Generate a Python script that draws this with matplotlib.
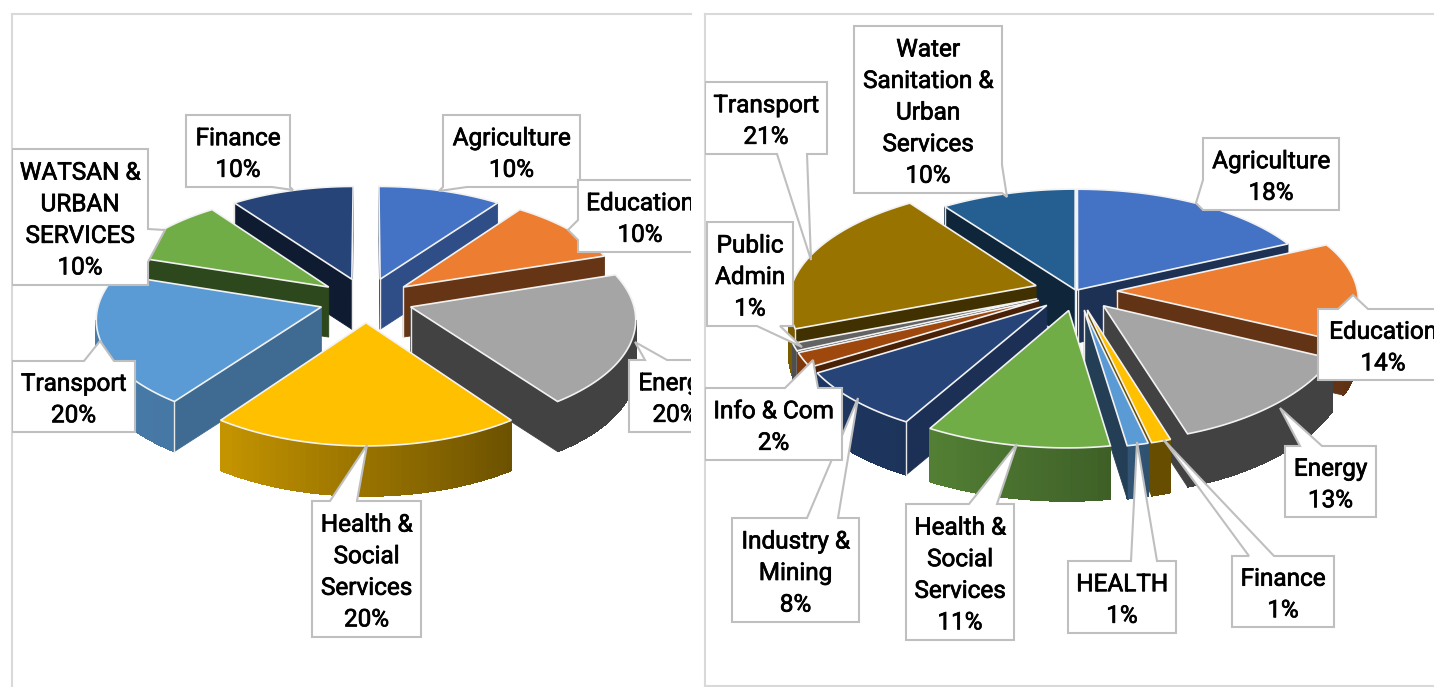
import numpy as np
from matplotlib import pyplot as plt
from matplotlib import patheffects
from matplotlib.patches import Polygon

plt.rcParams['font.family'] = ['Roboto', 'DejaVu Sans']

# chart data
left_names = ['Agriculture', 'Education', 'Energy', 'Health &\nSocial\nServices', 'Transport',
              'WATSAN &\nURBAN\nSERVICES', 'Finance']
left_values = [10, 10, 20, 20, 20, 10, 10]
left_colors = ['#4472C4', '#ED7D31', '#A5A5A5', '#FFC000', '#5B9BD5', '#70AD47', '#264478']

right_names = ['Agriculture', 'Education', 'Energy', 'Finance', 'HEALTH', 'Health &\nSocial\nServices',
               'Industry &\nMining', 'Info & Com', 'Public\nAdmin', 'Transport',
               'Water\nSanitation &\nUrban\nServices']
# the labels are rounded, the slice angles show a bit more for the small ones
right_values = [18, 14, 13, 1.2, 1.3, 10.6, 8, 2, 1, 21, 10]
right_colors = ['#4472C4', '#ED7D31', '#A5A5A5', '#FFC000', '#5B9BD5', '#70AD47', '#264478',
                '#9E480E', '#636363', '#997300', '#255E91']
right_explode = [0.012, 0.17, 0.17, 0.17, 0.17, 0.17, 0.17, 0.17, 0.17, 0.17, 0.012]

# callouts: box x0, y0, x1, y1, side the pointer leaves from, pointer base a, base b, tip x, tip y
left_boxes = [
    (443, 115, 580, 187, 'bottom', 467, 443, 439, 191),
    (578, 180, 702, 252, 'left', 240, 220, 568, 230),
    (629, 360, 721, 432, 'top', 645, 667, 635, 342),
    (312, 501, 421, 637, 'top', 330, 357, 367, 445),
    (12, 361, 135, 432, 'top', 84, 114, 100, 341),
    (12, 149, 148, 285, 'right', 229, 262, 165, 230),
    (186, 115, 290, 187, 'bottom', 290, 272, 293, 190),
]
right_boxes = [
    (1203, 138, 1339, 210, 'left', 210, 180, 1196, 203),
    (1318, 309, 1448, 380, 'top', 1338, 1368, 1353, 295),
    (1285, 446, 1376, 517, 'top', 1300, 1322, 1280, 408),
    (1232, 556, 1334, 627, 'top', 1249, 1274, 1163, 439),
    (1068, 561, 1176, 633, 'top', 1131, 1157, 1137, 442),
    (906, 504, 1014, 640, 'top', 969, 997, 1017, 444),
    (732, 518, 859, 622, 'top', 807, 838, 858, 398),
    (705, 388, 842, 460, 'top', 785, 818, 813, 360),
    (707, 222, 793, 326, 'bottom', 780, 757, 802, 347),
    (705, 82, 827, 154, 'bottom', 807, 777, 811, 260),
    (854, 26, 1002, 193, 'right', 165, 193, 1007, 197),
]


def shade(color, f):
    return tuple(c * f for c in plt.matplotlib.colors.to_rgb(color))


def draw_pie(ax, values, colors, explode, cx, cy, R, K, p, depth, squeeze=0.0):
    total = sum(values)
    edges = np.cumsum([0] + list(values)) / total * 360.0

    def project(theta, r, mid, e):
        t, m = np.radians(theta), np.radians(mid)
        X = r * np.sin(t) + e * np.sin(m)
        Y = -(r * np.cos(t) + e * np.cos(m))
        s = 1 / (1 - p * Y)
        if X > 0:
            # the front right of the reference pie is a little narrower
            X = X * (1 - squeeze * max(0, Y + 0.4))
        return cx + R * X * s, cy + K * Y * s

    order = sorted(range(len(values)), key=lambda i: -np.cos(np.radians((edges[i] + edges[i + 1]) / 2)))
    for i in order:
        a, b = edges[i], edges[i + 1]
        mid = (a + b) / 2
        e = explode[i]
        thetas = np.linspace(a, b, max(3, int((b - a) / 1.5) + 2))
        apex = project(a, 0, mid, e)
        arc = [project(t, 1, mid, e) for t in thetas]

        def face(p0, p1, f, smooth=True):
            if p1[0] >= p0[0]:
                return
            ax.add_patch(Polygon([p0, p1, (p1[0], p1[1] + depth), (p0[0], p0[1] + depth)],
                                 closed=True, fc=shade(colors[i], f), ec=shade(colors[i], f),
                                 lw=0.6, antialiased=smooth, zorder=2))

        def radial_shade(phi):
            return np.interp(phi % 360, [120, 130, 150, 240], [0.7, 0.68, 0.43, 0.4])

        face(apex, arc[0], radial_shade(a - 90))
        for j in range(len(arc) - 1):
            phi = (thetas[j] + thetas[j + 1]) / 2
            f = 0.4 if mid < 165 else np.interp(phi, [140, 215, 250], [0.4, 0.77, 0.8])
            face(arc[j], arc[j + 1], f, smooth=False)
        face(arc[-1], apex, radial_shade(b + 90))
        # light corner line where the slice turns towards the viewer
        for pt, nxt in ((arc[-1], apex), (apex, arc[0])):
            if nxt[0] < pt[0]:
                ax.plot([nxt[0], nxt[0]], [nxt[1], nxt[1] + depth], color='#E8E8E8', lw=1.0, zorder=2)
        ax.add_patch(Polygon([apex] + arc, closed=True, fc=colors[i], ec='#F2F2F2', lw=1.2,
                             joinstyle='miter', zorder=2))


def draw_label(ax, name, value, box):
    x0, y0, x1, y1, side, b1, b2, tx, ty = box
    tip = (tx, ty)
    pts = [(x0, y0)]
    if side == 'top':
        pts += [(b1, y0), tip, (b2, y0)]
    pts.append((x1, y0))
    if side == 'right':
        pts += [(x1, b1), tip, (x1, b2)]
    pts.append((x1, y1))
    if side == 'bottom':
        pts += [(b1, y1), tip, (b2, y1)]
    pts.append((x0, y1))
    if side == 'left':
        pts += [(x0, b1), tip, (x0, b2)]
    ax.add_patch(Polygon(pts, closed=True, fc='white', ec='#BFBFBF', lw=1.5, joinstyle='miter', zorder=3))
    lines = name.split('\n') + ['%d%%' % round(value)]
    xc = (x0 + x1) / 2
    yc = (y0 + y1) / 2
    for k, line in enumerate(lines):
        t = ax.text(xc, yc + (k - (len(lines) - 1) / 2) * 31.6 + 10, line, ha='center', va='baseline',
                    fontsize=17.5, color='black', zorder=4, clip_on=True)
        t.set_path_effects([patheffects.withStroke(linewidth=0.5, foreground='black')])


W, H = 1434, 687
fig = plt.figure(figsize=(W / 100, H / 100), dpi=100)


def panel(x0, x1, y0, y1, bottom):
    ax = fig.add_axes([x0 / W, 1 - y1 / H, (x1 - x0) / W, (y1 - y0) / H])
    ax.set_xlim(x0, x1)
    ax.set_ylim(y1, y0)
    ax.set_xticks([])
    ax.set_yticks([])
    ax.spines['right'].set_visible(False)
    ax.spines['bottom'].set_visible(bottom)
    for s in ax.spines.values():
        s.set_color('#D9D9D9')
        s.set_linewidth(1.5)
    return ax


ax1 = panel(12, 691, 14, 690, False)
draw_pie(ax1, left_values, left_colors, [0.21] * len(left_values), 366, 300, 222, 106, 0.1, 50)
for n, v, b in zip(left_names, left_values, left_boxes):
    draw_label(ax1, n, v, b)

ax2 = panel(705, 1436, 14, 686, True)
draw_pie(ax2, right_values, right_colors, right_explode, 1076, 291, 246, 114, 0.13, 53, squeeze=0.055)
for n, v, b in zip(right_names, right_values, right_boxes):
    draw_label(ax2, n, v, b)

plt.savefig('out.png', dpi=100)
plt.close()
